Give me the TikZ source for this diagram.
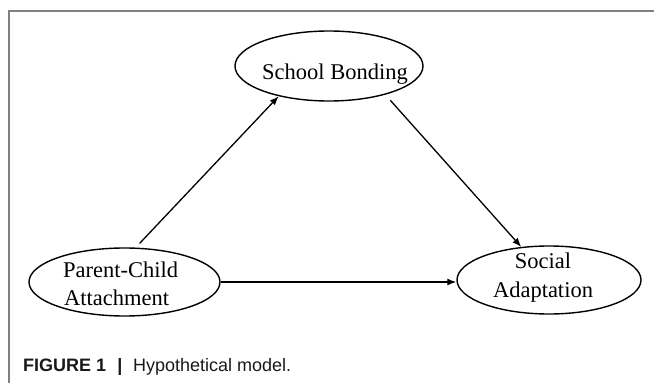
\documentclass[tikz,border=0pt]{standalone}
\usepackage{fontspec}
\setmainfont{Liberation Serif}
\newfontfamily\capfont{Liberation Sans}
\usetikzlibrary{arrows.meta,shapes.geometric}
\begin{document}
\begin{tikzpicture}[x=1pt,y=-1pt,
  ell/.style={draw=black,ellipse,line width=1.4pt,inner sep=0pt},
  lbl/.style={font=\fontsize{22.5}{27}\selectfont,inner sep=0pt},
  captxt/.style={font=\capfont\fontsize{18}{22}\selectfont,inner sep=0pt,text=black!90},
  conn/.style={line width=1.3pt,-{Latex[length=9pt,width=7pt]}},
  framestyle/.style={draw=black!50,line width=1.2pt}
]
\useasboundingbox (0,0) rectangle (654,383);
\draw[framestyle] (654,11) -- (9,11) -- (9,383);
% ellipses
\node[ell,minimum width=188pt,minimum height=70pt] (sb) at (329,66) {};
\node[ell,minimum width=191pt,minimum height=68pt] (pc) at (124.5,282) {};
\node[ell,minimum width=184pt,minimum height=68pt] (sa) at (549,280) {};
% texts
\node[lbl,anchor=base] (sbt) at (335,79) {School Bonding};
\node[lbl,anchor=base west] (pct1) at (63,277) {Parent-Child};
\node[lbl,anchor=base west] (pct2) at (64,305) {Attachment};
\node[lbl,anchor=base] (sat1) at (543,268) {Social};
\node[lbl,anchor=base] (sat2) at (543,297) {Adaptation};
% connectors
\draw[conn,shorten <=5.6pt] (pc.72) -- (sb.211);
\draw[conn,shorten <=7.5pt] (sb.-27) -- (sa.130);
\draw[conn] (pc.east) -- (pc.east -| sa.west);
% caption
\node[captxt,anchor=base west] (c1) at (23,371) {\bfseries FIGURE 1};
\node[captxt,anchor=base] (c2) at (120,371) {\bfseries |};
\node[captxt,anchor=base west] (c3) at (133,371) {Hypothetical model.};
\end{tikzpicture}
\end{document}
